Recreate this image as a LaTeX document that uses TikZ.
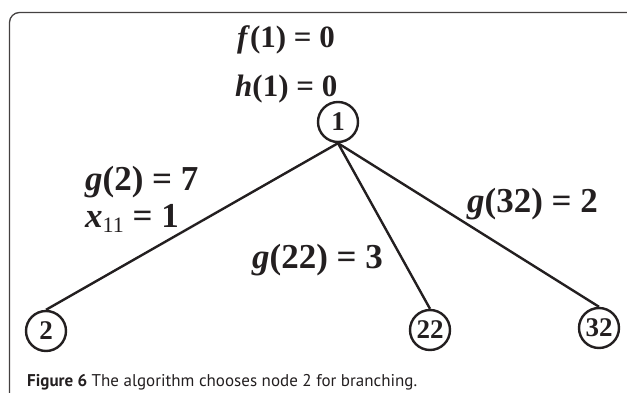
\documentclass[tikz,border=0pt]{standalone}
\usepackage{fontspec}
\setmainfont{Liberation Serif}
\newfontfamily\capfont{PT Sans}
\definecolor{ink}{HTML}{231F20}
\begin{document}
\begin{tikzpicture}[x=1pt,y=-1pt,
  treenode/.style={circle,draw=ink,line width=2.4pt,minimum size=40pt,inner sep=0pt,text=ink,font=\fontsize{27}{27}\selectfont\bfseries},
  edge/.style={draw=ink,line width=2.4pt},
  lbl/.style={anchor=base west,inner sep=0pt,text=ink,font=\fontsize{35}{35}\selectfont\bfseries},
  toplbl/.style={anchor=base west,inner sep=0pt,text=ink,font=\fontsize{31}{31}\selectfont\bfseries},
  caption/.style={anchor=base west,inner sep=0pt,text=ink,font=\capfont\fontsize{17}{17}\selectfont}]
\useasboundingbox (0,0) rectangle (627,393);
\draw[line width=1.3pt, rounded corners=10pt, color=ink!85] (9.5,400) -- (9.5,12.5) -- (640,12.5);
\node[treenode] (n1) at (338,122) {1};
\node[treenode] (n2) at (46,331) {2};
\node[treenode] (n22) at (430,330) {22};
\node[treenode] (n32) at (599,328) {32};
\draw[edge] (n1.south) -- (n2.north);
\draw[edge] (n1.south) -- (n22.north);
\draw[edge] (n1.south) -- (n32.north);
\node[toplbl] (lf) at (237,48) {\textit{f}(1) = 0};
\node[toplbl] (lh) at (235,97) {\textit{h}(1) = 0};
\node[lbl] (lg2) at (85,190) {\textit{g}(2) = 7};
\node[lbl] (lx) at (85,228) {\textit{x}{\fontsize{22}{22}\selectfont\mdseries\raisebox{-5pt}{11}} = 1};
\node[lbl] (lg22) at (252,268) {\textit{g}(22) = 3};
\node[lbl] (lg32) at (467,213) {\textit{g}(32) = 2};
\node[caption] (cap) at (27,386) {\textbf{Figure 6} The algorithm chooses node 2 for branching.};
\end{tikzpicture}
\end{document}
